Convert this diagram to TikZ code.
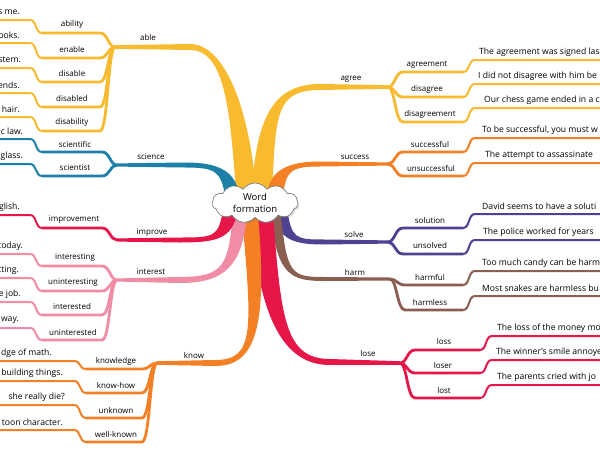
\documentclass[tikz,border=0pt]{standalone}
\usepackage{fontspec}
\setmainfont{Open Sans}
\usetikzlibrary{calc,shapes.symbols,shadows}
\definecolor{yel}{RGB}{248,187,48}
\definecolor{blu}{RGB}{28,128,168}
\definecolor{org}{RGB}{244,128,38}
\definecolor{pur}{RGB}{78,66,146}
\definecolor{brn}{RGB}{138,94,80}
\definecolor{crm}{RGB}{230,22,72}
\definecolor{pnk}{RGB}{240,140,165}
% color, P0, C1, C2, P3, n0, n3, split, nS
\newcommand\trunk[9]{\fill[#1] ($#2+#6$) .. controls ($#3+#6$) and ($#4+#7$) .. ($#5+#7$) -- ($#8+#9$) -- ($#8-#9$) -- ($#5-#7$) .. controls ($#4-#7$) and ($#3-#6$) .. ($#2-#6$) -- cycle;}
% color, split x, split y, L, xs, T
\newcommand\subleft[6]{%
 \draw[#1, line width=2.8pt] (#2,#3) .. controls (#2-7,#3) and (#2-7,#4) .. (#2-15,#4) -- (#5,#4);
 \draw[#1, line width=2pt] (#5,#4) .. controls (#5-7,#4) and (#5-5,#6) .. (#5-12,#6) -- (-5,#6);}
\newcommand\subright[6]{%
 \draw[#1, line width=2.8pt] (#2,#3) .. controls (#2+7,#3) and (#2+7,#4) .. (#2+15,#4) -- (#5,#4);
 \draw[#1, line width=2pt] (#5,#4) .. controls (#5+7,#4) and (#5+5,#6) .. (#5+12,#6) -- (605,#6);}
\begin{document}
\begin{tikzpicture}[x=1pt,y=-1pt,
  lbl/.style={font=\fontsize{8}{9}\selectfont, inner sep=0pt},
  sent/.style={font=\fontsize{8.6}{9}\selectfont, inner sep=0pt, anchor=west},
  sentl/.style={font=\fontsize{8.6}{9}\selectfont, inner sep=0pt, anchor=east},
  cloudbox/.style={cloud, cloud puffs=11, cloud puff arc=110, aspect=2.3, draw=black!55, fill=white, line width=0.6pt,
    minimum width=86pt, minimum height=40pt, inner sep=0pt, align=center, font=\fontsize{9.5}{12}\selectfont,
    drop shadow={opacity=0.25, shadow xshift=1.5pt, shadow yshift=-1.5pt}}]
\useasboundingbox (0,0) rectangle (600,450);
\fill[white] (0,0) rectangle (600,450);
\begin{scope}
\clip (0,0) rectangle (600,450);
% split coordinates
\coordinate (ableS) at (115,47);
\coordinate (sciS) at (117,165);
\coordinate (impS) at (117,240);
\coordinate (intS) at (117,280);
\coordinate (knowS) at (157,363);
\coordinate (agrS) at (388,87);
\coordinate (sucS) at (388,164);
\coordinate (solS) at (388,242);
\coordinate (harS) at (390,279);
\coordinate (losS) at (400,363);
% sub-branches left
\subleft{yel}{115}{47}{33}{42}{20}
\subleft{yel}{115}{47}{58}{42}{43}
\subleft{yel}{115}{47}{82}{42}{68}
\subleft{yel}{115}{47}{107}{42}{93}
\subleft{yel}{115}{47}{131}{42}{117}
\subleft{blu}{117}{165}{152}{42}{139}
\subleft{blu}{117}{165}{176}{42}{164}
\subleft{crm}{117}{240}{228}{42}{215}
\subleft{pnk}{117}{280}{266}{42}{254}
\subleft{pnk}{117}{280}{291}{42}{278}
\subleft{pnk}{117}{280}{315}{42}{302}
\subleft{pnk}{117}{280}{340}{42}{328}
\subleft{org}{157}{363}{369}{86}{361}
\subleft{org}{157}{363}{393}{86}{381}
\subleft{org}{157}{363}{418}{86}{405}
\subleft{org}{157}{363}{442}{86}{430}
% sub-branches right
\subright{yel}{388}{87}{72}{463}{60}
\subright{yel}{388}{87}{97}{463}{84}
\subright{yel}{388}{87}{122}{463}{108}
\subright{org}{388}{164}{152}{463}{138}
\subright{org}{388}{164}{176}{463}{163}
\subright{pur}{388}{242}{228}{463}{214}
\subright{pur}{388}{242}{254}{463}{240}
\subright{brn}{390}{279}{285}{463}{271}
\subright{brn}{390}{279}{310}{463}{296}
\subright{crm}{400}{363}{350}{480}{336}
\subright{crm}{400}{363}{373}{480}{360}
\subright{crm}{400}{363}{398}{480}{385}
% trunks
\trunk{yel}{(246,192)}{(240,110)}{(225,47)}{(190,47)}{(10,0)}{(0,-3)}{(ableS)}{(0,-1.8)}
\trunk{yel}{(262,192)}{(266,115)}{(275,87)}{(320,87)}{(10,0)}{(0,3)}{(agrS)}{(0,1.8)}
\trunk{blu}{(232,195)}{(228,170)}{(215,165)}{(185,165)}{(7,-1)}{(0,-2.5)}{(sciS)}{(0,-1.6)}
\trunk{org}{(275,195)}{(278,170)}{(290,164)}{(320,164)}{(8,1)}{(0,2.5)}{(sucS)}{(0,1.6)}
\trunk{pur}{(280,210)}{(285,240)}{(295,242)}{(325,242)}{(-7,1)}{(0,2.5)}{(solS)}{(0,1.6)}
\trunk{brn}{(276,216)}{(282,276)}{(292,279)}{(325,279)}{(-5,0.5)}{(0,2)}{(harS)}{(0,1.5)}
\trunk{crm}{(262,215)}{(270,320)}{(285,362)}{(330,362)}{(-11,1)}{(0,3)}{(losS)}{(0,1.8)}
\trunk{org}{(250,215)}{(260,330)}{(255,363)}{(215,363)}{(-8,0.7)}{(0,-3)}{(knowS)}{(0,-1.8)}
\trunk{pnk}{(240,215)}{(235,265)}{(225,280)}{(180,280)}{(-7,-0.7)}{(0,-3)}{(intS)}{(0,-1.6)}
\trunk{crm}{(230,212)}{(225,238)}{(215,240)}{(180,240)}{(-7,-1.4)}{(0,-2.5)}{(impS)}{(0,-1.6)}
% main labels
\node[lbl] (able) at (148,37) {able};
\node[lbl] (science) at (151,157) {science};
\node[lbl] (improve) at (152,233) {improve};
\node[lbl] (interest) at (151,272) {interest};
\node[lbl] (know) at (194,355) {know};
\node[lbl] (agree) at (351,79) {agree};
\node[lbl] (success) at (355,157) {success};
\node[lbl] (solve) at (354,234) {solve};
\node[lbl] (harm) at (355,272) {harm};
\node[lbl] (lose) at (368,353) {lose};
% sub labels left
\node[lbl] (ability) at (72,24) {ability};
\node[lbl] (enable) at (72,49) {enable};
\node[lbl] (disable) at (72,73) {disable};
\node[lbl] (disabled) at (72,98) {disabled};
\node[lbl] (disability) at (72,122) {disability};
\node[lbl] (scientific) at (75,144) {scientific};
\node[lbl] (scientist) at (75,168) {scientist};
\node[lbl] (improvement) at (74,220) {improvement};
\node[lbl] (interesting) at (75,258) {interesting};
\node[lbl] (uninteresting) at (73,283) {uninteresting};
\node[lbl] (interested) at (72,306) {interested};
\node[lbl] (uninterested) at (73,332) {uninterested};
\node[lbl] (knowledge) at (116,361) {knowledge};
\node[lbl] (knowhow) at (116,385) {know-how};
\node[lbl] (unknown) at (116,410) {unknown};
\node[lbl] (wellknown) at (116,434) {well-known};
% sentences left
\node[sentl] (t1) at (20,12) {s me.};
\node[sentl] (t2) at (20,35) {ooks.};
\node[sentl] (t3) at (21,60) {stem.};
\node[sentl] (t4) at (20,85) {ends.};
\node[sentl] (t5) at (20,109) {hair.};
\node[sentl] (t6) at (23,131) {c law.};
\node[sentl] (t7) at (23,156) {glass.};
\node[sentl] (t8) at (20,207) {glish.};
\node[sentl] (t9) at (23,246) {today.};
\node[sentl] (t10) at (19,270) {tting.};
\node[sentl] (t11) at (21,294) {e job.};
\node[sentl] (t12) at (19,320) {way.};
\node[sentl] (t13) at (52,353) {dge of math.};
\node[sentl] (t14) at (63,373) {building things.};
\node[sentl] (t15) at (65,397) {she really die?};
\node[sentl] (t16) at (63,422) {toon character.};
% sub labels right
\node[lbl] (agreement) at (427,65) {agreement};
\node[lbl] (disagree) at (427,89) {disagree};
\node[lbl] (disagreement) at (430,114) {disagreement};
\node[lbl] (successful) at (430,144) {successful};
\node[lbl] (unsuccessful) at (431,168) {unsuccessful};
\node[lbl] (solution) at (430,220) {solution};
\node[lbl] (unsolved) at (430,245) {unsolved};
\node[lbl] (harmful) at (430,277) {harmful};
\node[lbl] (harmless) at (430,302) {harmless};
\node[lbl] (loss) at (444,341) {loss};
\node[lbl] (loser) at (443,365) {loser};
\node[lbl] (lost) at (444,390) {lost};
% sentences right
\node[sent] (r1) at (479,52) {The agreement was signed las};
\node[sent] (r2) at (478,76) {I did not disagree with him be};
\node[sent] (r3) at (484,100) {Our chess game ended in a c};
\node[sent] (r4) at (482,130) {To be successful, you must w};
\node[sent] (r5) at (485,155) {The attempt to assassinate};
\node[sent] (r6) at (482,206) {David seems to have a soluti};
\node[sent] (r7) at (483,232) {The police worked for years};
\node[sent] (r8) at (482,263) {Too much candy can be harm};
\node[sent] (r9) at (482,288) {Most snakes are harmless bu};
\node[sent] (r10) at (497,328) {The loss of the money mo};
\node[sent] (r11) at (496,352) {The winner's smile annoye};
\node[sent] (r12) at (497,377) {The parents cried with jo};
% center cloud
\node[cloudbox] (center) at (255,203) {Word\\formation};
\end{scope}
\end{tikzpicture}
\end{document}
